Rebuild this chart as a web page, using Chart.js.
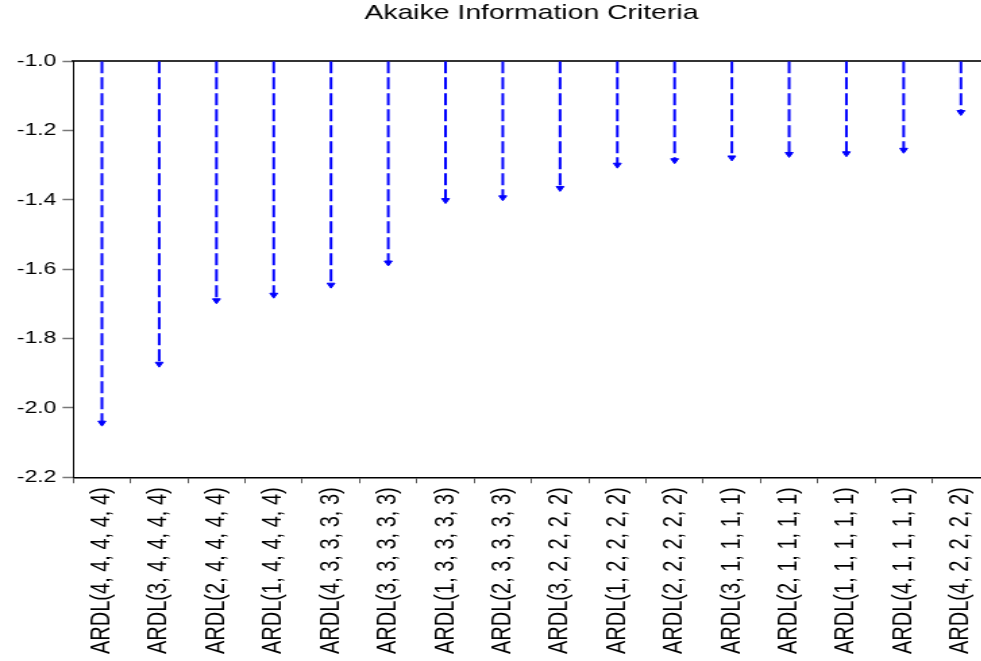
<!DOCTYPE html>
<html>
<head>
<meta charset="utf-8">
<script src="https://cdn.jsdelivr.net/npm/chart.js@4.4.0/dist/chart.umd.min.js"></script>
<style>
html, body { margin: 0; padding: 0; background: #fff; overflow: hidden; }
#frame { width: 981px; height: 661px; overflow: hidden; position: relative; }
/* the original graph is stretched sideways, so draw narrow and widen it */
#stretch { width: 745px; height: 661px; transform: scaleX(1.35); transform-origin: 0 0; }
</style>
</head>
<body>
<div id="frame"><div id="stretch"><canvas id="aic"></canvas></div></div>
<script>
// Akaike Information Criteria - top 16 ARDL models

var models = [
    'ARDL(4, 4, 4, 4, 4)', 'ARDL(3, 4, 4, 4, 4)', 'ARDL(2, 4, 4, 4, 4)', 'ARDL(1, 4, 4, 4, 4)',
    'ARDL(4, 3, 3, 3, 3)', 'ARDL(3, 3, 3, 3, 3)', 'ARDL(1, 3, 3, 3, 3)', 'ARDL(2, 3, 3, 3, 3)',
    'ARDL(3, 2, 2, 2, 2)', 'ARDL(1, 2, 2, 2, 2)', 'ARDL(2, 2, 2, 2, 2)', 'ARDL(3, 1, 1, 1, 1)',
    'ARDL(2, 1, 1, 1, 1)', 'ARDL(1, 1, 1, 1, 1)', 'ARDL(4, 1, 1, 1, 1)', 'ARDL(4, 2, 2, 2, 2)'
];

var aicValues = [
    -2.043, -1.873, -1.690, -1.674, -1.645, -1.581, -1.401, -1.393,
    -1.366, -1.299, -1.286, -1.278, -1.268, -1.266, -1.256, -1.147
];

var yTickValues = [-1.0, -1.2, -1.4, -1.6, -1.8, -2.0, -2.2];
var stemTop = -1.0;

var fontFamily = "'Liberation Sans', Arial, sans-serif";
var stemColor = '#0000ff';

// one dashed stem per model, from the top of the axis down to its value
var datasets = models.map(function (m, i) {
    return {
        data: [{ x: m, y: stemTop }, { x: m, y: aicValues[i] }],
        borderColor: stemColor,
        borderWidth: 2,
        borderDash: [12, 4],
        pointRadius: [0, 3.3],
        pointStyle: 'triangle',
        pointRotation: 180,
        pointBackgroundColor: stemColor,
        pointBorderColor: stemColor,
        pointBorderWidth: 1,
        fill: false,
        tension: 0
    };
});

new Chart(document.getElementById('aic').getContext('2d'), {
    type: 'line',
    data: { labels: models, datasets: datasets },
    options: {
        responsive: true,
        maintainAspectRatio: false,
        animation: false,
        events: [],
        layout: { padding: { left: 8, right: 12, top: 0, bottom: 3 } },
        plugins: {
            legend: { display: false },
            tooltip: { enabled: false },
            title: {
                display: true,
                fullSize: false,
                text: 'Akaike Information Criteria',
                color: '#000',
                font: { family: fontFamily, size: 21, weight: 'normal' },
                padding: { top: 1, bottom: 35 }
            }
        },
        scales: {
            x: {
                type: 'category',
                offset: true,
                grid: { offset: true, drawOnChartArea: false, drawTicks: true, tickLength: 6, tickColor: '#555', tickWidth: 1 },
                border: { display: true, color: '#000', width: 1.5 },
                ticks: {
                    autoSkip: false, minRotation: 90, maxRotation: 90, padding: 4,
                    color: '#000', font: { family: fontFamily, size: 20 }
                }
            },
            x2: {
                type: 'category',
                labels: models,
                position: 'top',
                offset: true,
                grid: { display: false, drawTicks: false },
                ticks: { display: false },
                border: { display: true, color: '#333', width: 2 }
            },
            y: {
                type: 'linear',
                min: -2.2,
                max: -1.0,
                afterBuildTicks: function (scale) {
                    scale.ticks = yTickValues.map(function (v) { return { value: v }; });
                },
                grid: { drawOnChartArea: false, drawTicks: true, tickLength: 8, tickColor: '#777', tickWidth: 1.5 },
                border: { display: true, color: '#000', width: 1 },
                ticks: {
                    padding: 4.5, color: '#000', font: { family: fontFamily, size: 17 },
                    callback: function (v) { return Number(v).toFixed(1); }
                }
            }
        }
    }
});
</script>
</body>
</html>
